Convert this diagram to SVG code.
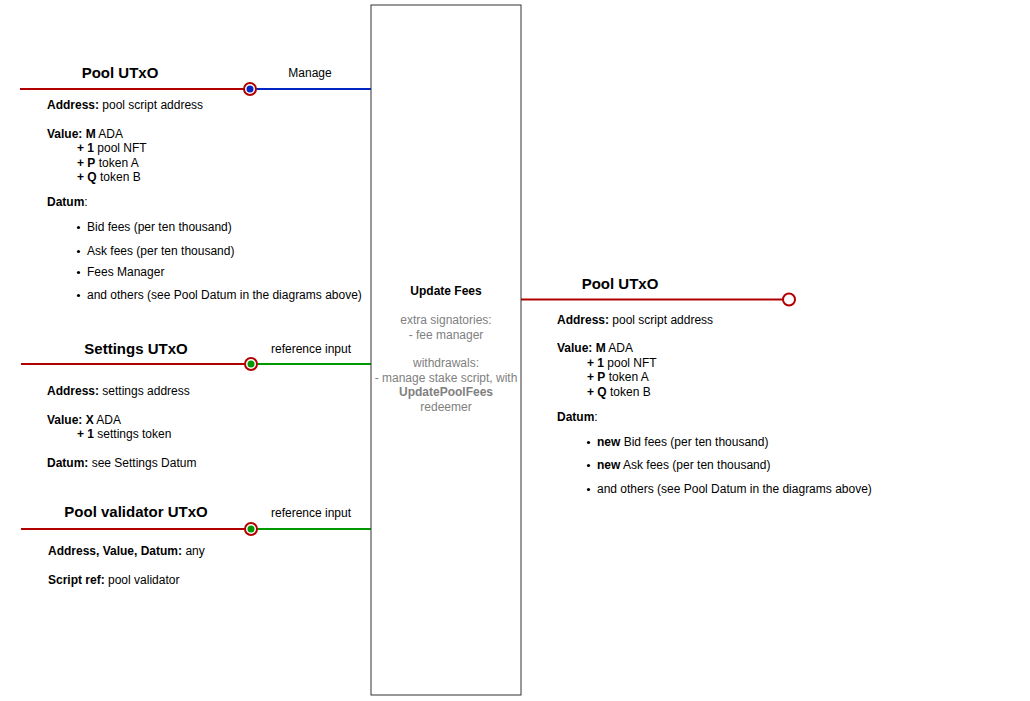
<svg xmlns="http://www.w3.org/2000/svg" width="1030" height="701" viewBox="0 0 1030 701">
<style>
text{font-family:"Liberation Sans",Arial,Helvetica,sans-serif;font-size:12px;fill:#000}
.t{font-size:15px;font-weight:bold;text-anchor:middle}
.b{font-weight:bold}
.g{fill:#808080;text-anchor:middle}
.c{text-anchor:middle}
.red{stroke:#B20000;stroke-width:2;fill:none}
.blue{stroke:#0027C4;stroke-width:2;fill:none}
.green{stroke:#009900;stroke-width:2;fill:none}
</style>
<rect width="1030" height="701" fill="#fff"/>
<g id="connectors">
<line class="red" x1="20" y1="89" x2="245" y2="89"/>
<line class="blue" x1="256" y1="89" x2="371" y2="89"/>
<line class="red" x1="21" y1="364" x2="245" y2="364"/>
<line class="green" x1="257" y1="364" x2="371" y2="364"/>
<line class="red" x1="21" y1="529" x2="245" y2="529"/>
<line class="green" x1="257" y1="529" x2="371" y2="529"/>
<line class="red" x1="521" y1="299.5" x2="783" y2="299.5"/>
<text x="310" y="77" class="c">Manage</text>
<text x="311" y="353" class="c">reference input</text>
<text x="311" y="517" class="c">reference input</text>
</g>
<g id="tx">
<rect x="371" y="5" width="150" height="690" fill="#fff" stroke="#333" stroke-width="1"/>
<text x="446" y="295" class="c b">Update Fees</text>
<text x="446" y="324" class="g">extra signatories:</text>
<text x="446" y="339" class="g">- fee manager</text>
<text x="446" y="367" class="g">withdrawals:</text>
<text x="446" y="382" class="g">- manage stake script, with</text>
<text x="446" y="396" class="g b">UpdatePoolFees</text>
<text x="446" y="411" class="g">redeemer</text>
</g>
<g id="pool-in">
<circle cx="250" cy="89" r="6" fill="#fff" stroke="#B20000" stroke-width="2"/>
<circle cx="250" cy="89" r="3.5" fill="#0027C4"/>
<text x="120" y="78" class="t">Pool UTxO</text>
<text x="47" y="109"><tspan class="b">Address:</tspan> pool script address</text>
<text x="47" y="138"><tspan class="b">Value: M</tspan> ADA</text>
<text x="77" y="152"><tspan class="b">+ 1</tspan> pool NFT</text>
<text x="77" y="167"><tspan class="b">+ P</tspan> token A</text>
<text x="77" y="181"><tspan class="b">+ Q</tspan> token B</text>
<text x="47" y="206"><tspan class="b">Datum</tspan>:</text>
<circle cx="78.5" cy="227.5" r="1.6"/><text x="87" y="231">Bid fees (per ten thousand)</text>
<circle cx="78.5" cy="251.5" r="1.6"/><text x="87" y="255">Ask fees (per ten thousand)</text>
<circle cx="78.5" cy="272.5" r="1.6"/><text x="87" y="276">Fees Manager</text>
<circle cx="78.5" cy="295.5" r="1.6"/><text x="87" y="299">and others (see Pool Datum in the diagrams above)</text>
</g>
<g id="settings">
<circle cx="251" cy="364" r="6" fill="#fff" stroke="#B20000" stroke-width="2"/>
<circle cx="251" cy="364" r="3.5" fill="#009900"/>
<text x="136" y="354" class="t">Settings UTxO</text>
<text x="47" y="395"><tspan class="b">Address:</tspan> settings address</text>
<text x="47" y="424"><tspan class="b">Value: X</tspan> ADA</text>
<text x="77" y="438"><tspan class="b">+ 1</tspan> settings token</text>
<text x="47" y="467"><tspan class="b">Datum:</tspan> see Settings Datum</text>
</g>
<g id="validator">
<circle cx="251" cy="529" r="6" fill="#fff" stroke="#B20000" stroke-width="2"/>
<circle cx="251" cy="529" r="3.5" fill="#009900"/>
<text x="136" y="517" class="t">Pool validator UTxO</text>
<text x="48" y="555"><tspan class="b">Address, Value, Datum:</tspan> any</text>
<text x="48" y="584"><tspan class="b">Script ref:</tspan> pool validator</text>
</g>
<g id="pool-out">
<circle cx="789" cy="299.5" r="6" fill="#fff" stroke="#B20000" stroke-width="2"/>
<text x="620" y="289" class="t">Pool UTxO</text>
<text x="557" y="324"><tspan class="b">Address:</tspan> pool script address</text>
<text x="557" y="352"><tspan class="b">Value: M</tspan> ADA</text>
<text x="587" y="367"><tspan class="b">+ 1</tspan> pool NFT</text>
<text x="587" y="381"><tspan class="b">+ P</tspan> token A</text>
<text x="587" y="396"><tspan class="b">+ Q</tspan> token B</text>
<text x="557" y="421"><tspan class="b">Datum</tspan>:</text>
<circle cx="588.5" cy="442.5" r="1.6"/><text x="597" y="446"><tspan class="b">new</tspan> Bid fees (per ten thousand)</text>
<circle cx="588.5" cy="465.5" r="1.6"/><text x="597" y="469"><tspan class="b">new</tspan> Ask fees (per ten thousand)</text>
<circle cx="588.5" cy="489.5" r="1.6"/><text x="597" y="493">and others (see Pool Datum in the diagrams above)</text>
</g>
</svg>
